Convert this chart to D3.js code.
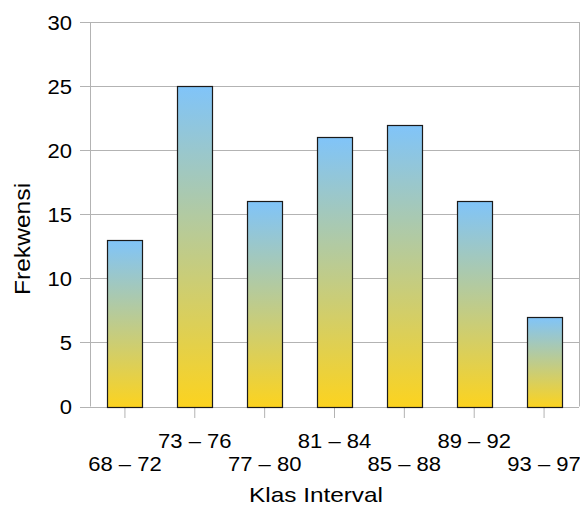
<!DOCTYPE html>
<html><head><meta charset="utf-8">
<script src="https://cdn.jsdelivr.net/npm/d3@7"></script>
<style>html,body{margin:0;padding:0;background:#fff;}svg{display:block;}</style>
</head><body>
<svg id="chart" width="580" height="506"></svg>
<script>
const categories = ["68 – 72","73 – 76","77 – 80","81 – 84","85 – 88","89 – 92","93 – 97"];
const frekwensi = [13, 25, 16, 21, 22, 16, 7];
const yTicks = [0, 5, 10, 15, 20, 25, 30];
const xTitle = "Klas Interval";
const yTitle = "Frekwensi";

const svg = d3.select("#chart");
const plotLeft = 90, plotRight = 579, plotTop = 22, plotBottom = 406.5;
const font = "'Liberation Sans', Arial, sans-serif";
const sx = 1.13;

const x = d3.scaleBand().domain(categories).range([plotLeft, plotRight]).paddingInner(0.5).paddingOuter(0.25);
const y = d3.scaleLinear().domain([0, 30]).range([plotBottom, plotTop]);

// gradient
const defs = svg.append("defs");
const grad = defs.append("linearGradient").attr("id","barGrad").attr("x1",0).attr("y1",0).attr("x2",0).attr("y2",1);
grad.append("stop").attr("offset","0%").attr("stop-color","#80c4f9");
grad.append("stop").attr("offset","100%").attr("stop-color","#fcd31f");

// gridlines
svg.append("g").selectAll("line").data(yTicks).join("line")
  .attr("x1", plotLeft - 10).attr("x2", plotRight)
  .attr("y1", d => Math.round(y(d)) + 0.5).attr("y2", d => Math.round(y(d)) + 0.5)
  .attr("stroke", "#b3b3b3").attr("stroke-width", 1);

// plot frame left & right
svg.append("line").attr("x1", plotLeft+0.5).attr("x2", plotLeft+0.5).attr("y1", y(30)).attr("y2", y(0))
  .attr("stroke","#b3b3b3");
svg.append("line").attr("x1", plotRight+0.5).attr("x2", plotRight+0.5).attr("y1", y(30)).attr("y2", y(0))
  .attr("stroke","#b3b3b3");

// y axis labels
const yAxis = d3.axisLeft(y).tickValues(yTicks).tickSize(0).tickPadding(0);
const gy = svg.append("g").attr("transform", `translate(${plotLeft},0)`).call(yAxis);
gy.select(".domain").remove();
gy.selectAll(".tick text")
  .attr("x", null).attr("dy", null)
  .attr("transform", `translate(-18,7) scale(${sx},1)`)
  .attr("text-anchor","end")
  .style("font-family", font).style("font-size","19.5px").attr("fill","#000");

// x axis ticks
const xAxis = d3.axisBottom(x).tickSize(11).tickSizeOuter(0).tickFormat("");
const gx = svg.append("g").attr("transform", `translate(0,${Math.round(plotBottom)})`).call(xAxis);
gx.select(".domain").remove();
gx.selectAll(".tick line").attr("stroke","#b3b3b3");

// x labels staggered
svg.append("g").selectAll("text").data(categories).join("text")
  .attr("transform", (d,i) => `translate(${x(d) + x.bandwidth()/2},${i % 2 ? 447.5 : 470.5}) scale(${sx},1)`)
  .attr("text-anchor","middle")
  .style("font-family", font).style("font-size","19.5px").attr("fill","#000")
  .text(d => d);

// bars
svg.append("g").selectAll("rect").data(frekwensi).join("rect")
  .attr("x", (d,i) => Math.round(x(categories[i])) + 0.5)
  .attr("y", d => Math.round(y(d)) + 0.5)
  .attr("width", Math.round(x.bandwidth()))
  .attr("height", d => Math.round(y(0)) - Math.round(y(d)))
  .attr("fill","url(#barGrad)")
  .attr("stroke","#1a1a1a").attr("stroke-width",1.2);

// titles
svg.append("text")
  .attr("transform", `translate(316,501.5) scale(1.16,1)`)
  .attr("text-anchor","middle")
  .style("font-family", font).style("font-size","21px").attr("fill","#000")
  .text(xTitle);
svg.append("text")
  .attr("transform", `translate(30,239) rotate(-90) scale(1.12,1)`)
  .attr("text-anchor","middle")
  .style("font-family", font).style("font-size","22px").attr("fill","#000")
  .text(yTitle);
</script>
</body></html>
